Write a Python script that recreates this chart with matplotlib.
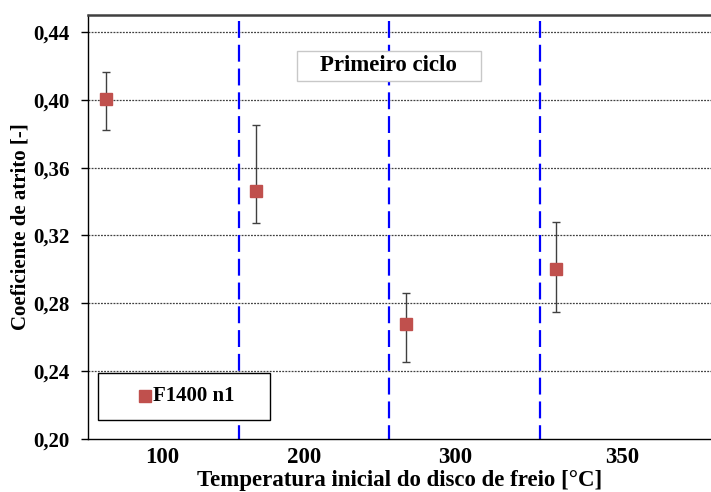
import matplotlib
matplotlib.use("Agg")
import matplotlib.pyplot as plt
from matplotlib.patches import Rectangle
from matplotlib.ticker import FuncFormatter

# Friction coefficient vs. initial brake disc temperature (first cycle)
categories = ["100", "200", "300", "350"]
mean_mu = [0.4005, 0.3463, 0.2678, 0.3003]
mu_upper = [0.4163, 0.3852, 0.2863, 0.3282]
mu_lower = [0.3821, 0.3273, 0.2454, 0.2747]
series_name = "F1400 n1"
title_text = "Primeiro ciclo"
label_offsets = [0.49, 1.43, 2.44, 3.55]

plt.rcParams["font.family"] = ["Liberation Serif", "DejaVu Serif"]
plt.rcParams["font.weight"] = "bold"

RED = "#C0504D"

fig = plt.figure(figsize=(7.11, 4.92), dpi=100)
ax = fig.add_axes([0.1238, 0.1077, 0.8775, 0.8618])

n = len(categories)
xs = [i + 0.11 for i in range(n)]
yerr_lo = [m - lo for m, lo in zip(mean_mu, mu_lower)]
yerr_hi = [hi - m for m, hi in zip(mean_mu, mu_upper)]

ax.errorbar(xs, mean_mu, yerr=[yerr_lo, yerr_hi], fmt="none",
            ecolor="#404040", elinewidth=1.0, capsize=3, capthick=1.0, zorder=3)
ax.plot(xs, mean_mu, linestyle="none", marker="s", markersize=9.3,
        color=RED, markeredgecolor=RED, zorder=4, label=series_name)

ax.set_xlim(-0.007, 4.147)
ax.set_ylim(0.20, 0.45)

# Category separators, dash pattern running from the top down
for b in range(1, n):
    ax.plot([b, b], [0.4466, 0.20], color="#0000FF", linewidth=1.6,
            dashes=(7.6, 3.1), zorder=2, solid_capstyle="butt")

yt = [0.20, 0.24, 0.28, 0.32, 0.36, 0.40, 0.44]
ax.set_yticks(yt)
ax.yaxis.set_major_formatter(FuncFormatter(lambda v, p: f"{v:.2f}".replace(".", ",")))
for y in yt[1:]:
    ax.axhline(y, color="#404040", linewidth=0.9, linestyle=(0, (1.5, 1)), zorder=1)

ax.set_xticks(label_offsets)
ax.set_xticklabels(categories)
ax.tick_params(axis="x", length=0, pad=6, labelsize=16.5)
ax.tick_params(axis="y", length=5, width=1, direction="out", labelsize=15, pad=8)
for lab in ax.get_xticklabels() + ax.get_yticklabels():
    lab.set_fontweight("bold")

ax.spines["right"].set_visible(False)
ax.spines["top"].set_color("#404040")
ax.spines["top"].set_linewidth(1.8)
ax.spines["left"].set_linewidth(1.0)
ax.spines["bottom"].set_linewidth(1.0)

ax.set_xlabel("Temperatura inicial do disco de freio [°C]", fontsize=16.5,
              fontweight="bold", labelpad=1)
ax.set_ylabel("Coeficiente de atrito [-]", fontsize=15, fontweight="bold", labelpad=2)

# Title box
ax.add_patch(Rectangle((0.3355, 0.8443), 0.2937, 0.0708, transform=ax.transAxes,
                       facecolor="white", edgecolor="#C8C8C8", linewidth=1.0,
                       zorder=6))
ax.text(0.482, 0.880, title_text, transform=ax.transAxes, fontsize=16.5,
        fontweight="bold", ha="center", va="center", zorder=7)

# Series key box
ax.add_patch(Rectangle((0.016, 0.045), 0.276, 0.111, transform=ax.transAxes,
                       facecolor="white", edgecolor="black", linewidth=1.0,
                       zorder=6))
ax.plot([0.0915], [0.1005], transform=ax.transAxes, linestyle="none",
        marker="s", markersize=8.8, color=RED, zorder=7, clip_on=False)
ax.text(0.104, 0.1005, series_name, transform=ax.transAxes, fontsize=15,
        fontweight="bold", ha="left", va="center", zorder=7)

fig.savefig("out.png", dpi=100)
